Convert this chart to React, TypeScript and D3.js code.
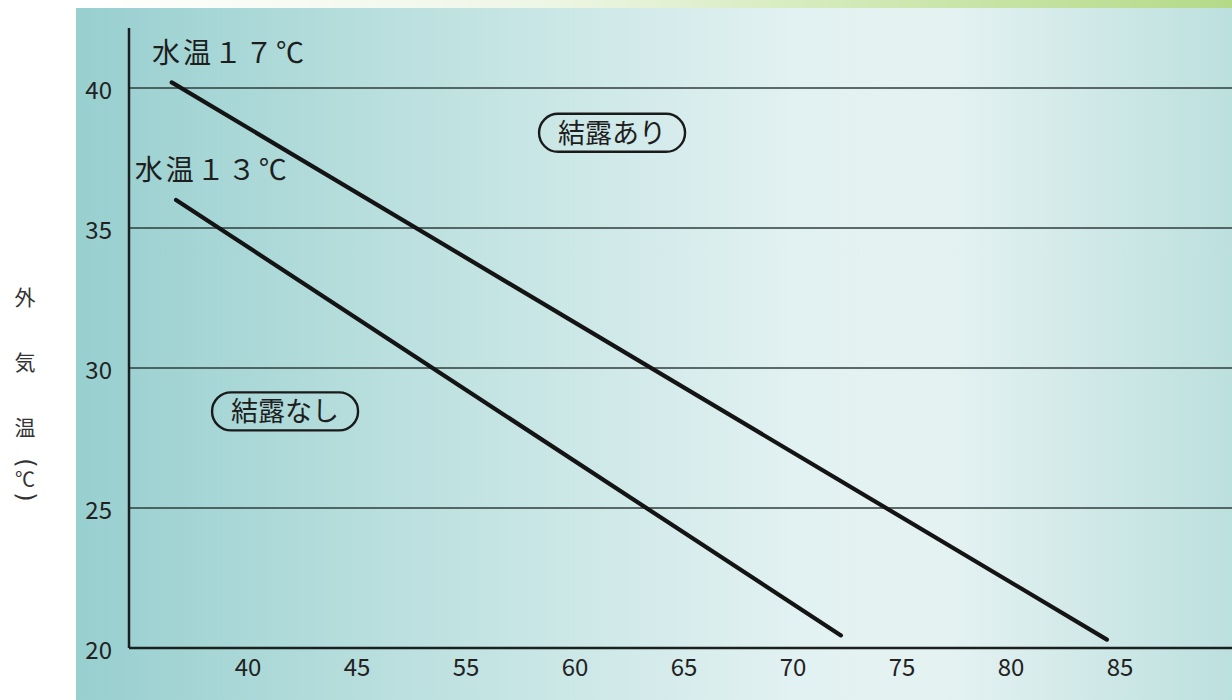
import * as d3 from 'd3'

// x axis labels as printed (note: the original skips 50)
const xTicks = [40, 45, 55, 60, 65, 70, 75, 80, 85]
const yTicks = [20, 25, 30, 35, 40]

const line13 = [
  { x: 36.7, y: 36.0 },
  { x: 72.2, y: 20.45 },
]
const line17 = [
  { x: 36.5, y: 40.2 },
  { x: 84.4, y: 20.3 },
]

const seriesLabels = [
  { text: '水温１７℃', x: 35.6, y: 40.9 },
  { text: '水温１３℃', x: 34.8, y: 36.7 },
]
const regionLabels = [
  { text: '結露あり', x: 61.7, y: 38.4 },
  { text: '結露なし', x: 41.7, y: 28.45 },
]

const yAxisTitle = ['外', '気', '温']

const W = 1232
const H = 700
const FONT = '"Noto Sans CJK JP", "Noto Sans", sans-serif'

export default function App() {
  const axisX = 129
  const axisY = 648
  const step = 109

  const xScale = d3.scaleLinear()
    .domain(xTicks)
    .range(xTicks.map((_, i) => 248 + i * step))

  const yScale = d3.scaleLinear()
    .domain([20, 40])
    .range([axisY, 88])

  const line = d3.line<{ x: number; y: number }>()
    .x(d => xScale(d.x))
    .y(d => yScale(d.y))

  return (
    <div style={{ position: 'fixed', left: 0, top: 0 }}>
      <svg width={W} height={H} style={{ display: 'block', fontFamily: FONT }}>
        <defs>
          <linearGradient id="panel" x1="0" x2="1" y1="0" y2="0">
            <stop offset="0" stopColor="#98cfcf" />
            <stop offset="0.3" stopColor="#bde1e0" />
            <stop offset="0.62" stopColor="#e2f1f1" />
            <stop offset="0.75" stopColor="#e5f2f2" />
            <stop offset="1" stopColor="#bce0de" />
          </linearGradient>
          <linearGradient id="strip" x1="0" x2="1" y1="0" y2="0">
            <stop offset="0" stopColor="#ffffff" />
            <stop offset="0.4" stopColor="#eef6e6" />
            <stop offset="0.7" stopColor="#cfe8b2" />
            <stop offset="1" stopColor="#b4da88" />
          </linearGradient>
        </defs>
        <rect x={0} y={0} width={W} height={H} fill="#ffffff" />
        <rect x={76} y={0} width={W - 76} height={8} fill="url(#strip)" />
        <rect x={76} y={8} width={W - 76} height={H - 8} fill="url(#panel)" />

        {/* horizontal grid */}
        {yTicks.filter(t => t !== 20).map(t => (
          <line key={t} x1={axisX} x2={W} y1={yScale(t)} y2={yScale(t)}
            stroke="#2f3d3d" strokeWidth={1.4} />
        ))}

        {/* axes */}
        <line x1={axisX} x2={axisX} y1={28} y2={axisY} stroke="#1a1f1f" strokeWidth={2.5} />
        <line x1={axisX} x2={W} y1={axisY} y2={axisY} stroke="#1a1f1f" strokeWidth={2.5} />

        {/* tick labels */}
        {yTicks.map(t => (
          <text key={t} x={112} y={yScale(t) + 3} dy="0.35em" textAnchor="end"
            fontSize={24} fill="#222">{t}</text>
        ))}
        {xTicks.map(t => (
          <text key={t} x={xScale(t)} y={668} dy="0.35em" textAnchor="middle"
            fontSize={24} fill="#222">{t}</text>
        ))}

        {/* y axis title, stacked vertically */}
        {yAxisTitle.map((c, i) => (
          <text key={c} x={25} y={298 + i * 65} dy="0.35em" textAnchor="middle"
            fontSize={21} fill="#333">{c}</text>
        ))}
        <text transform="translate(25,463) rotate(90)" dy="0.3em" textAnchor="middle"
          fontSize={24} fill="#333" fontFamily="'DejaVu Sans', sans-serif">(</text>
        <text x={25} y={480} dy="0.35em" textAnchor="middle" fontSize={20} fill="#333">℃</text>
        <text transform="translate(25,497) rotate(90)" dy="0.3em" textAnchor="middle"
          fontSize={24} fill="#333" fontFamily="'DejaVu Sans', sans-serif">)</text>

        {/* data lines */}
        {[line13, line17].map((d, i) => (
          <path key={i} d={line(d) ?? ''} fill="none" stroke="#141414" strokeWidth={4.2}
            strokeLinecap="round" />
        ))}

        {seriesLabels.map(l => (
          <text key={l.text} x={xScale(l.x)} y={yScale(l.y)} fontSize={28}
            letterSpacing={3} fill="#1e1e1e">{l.text}</text>
        ))}

        {regionLabels.map(l => {
          const cx = xScale(l.x)
          const cy = yScale(l.y)
          const w = 146
          const h = 38
          return (
            <g key={l.text}>
              <rect x={cx - w / 2} y={cy - h / 2} width={w} height={h} rx={h / 2}
                fill="none" stroke="#1a1a1a" strokeWidth={2.4} />
              <text x={cx} y={cy} dy="0.36em" textAnchor="middle" fontSize={27}
                fill="#1e1e1e">{l.text}</text>
            </g>
          )
        })}
      </svg>
    </div>
  )
}
